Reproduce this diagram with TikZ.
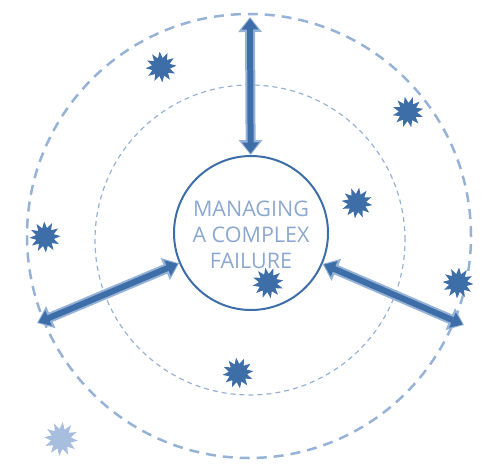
\documentclass[tikz,border=0pt]{standalone}
\usepackage{fontspec}
\setmainfont{Open Sans}
\usetikzlibrary{arrows.meta,shapes.geometric}

\definecolor{deepblue}{RGB}{62,110,168}
\definecolor{paleblue}{RGB}{150,178,214}
\definecolor{textblue}{RGB}{140,168,208}
\definecolor{fadedblue}{RGB}{168,190,222}

\tikzset{
  burst/.style={star, star points=12, star point ratio=1.7, fill=deepblue,
    inner sep=0pt, minimum size=31pt},
  halo/.style={line width=10pt, paleblue,
    {Triangle[length=15pt,width=23pt]}-{Triangle[length=15pt,width=23pt]}},
  shaft/.style={line width=6pt, deepblue, shorten <=1.5pt, shorten >=1.5pt,
    {Triangle[length=11pt,width=16pt]}-{Triangle[length=11pt,width=16pt]}}
}

\begin{document}
\begin{tikzpicture}[x=1pt,y=-1pt]
    \useasboundingbox (0,0) rectangle (492,468);

    \draw[paleblue, line width=2.5pt, dash pattern=on 10pt off 7pt]
	(249,236) circle (222pt);
    \draw[paleblue, line width=1.2pt, dash pattern=on 5pt off 4pt]
	(250,240) circle (155pt);

    \node[circle, draw=deepblue, line width=2pt, minimum size=154pt]
	(core) at (251,233) {};
    \node[text=textblue, align=center, font=\fontsize{21.5}{26}\selectfont]
	(label) at (251,234.5) {MANAGING\\A COMPLEX\\FAILURE};

    \coordinate (top) at (250,17);
    \coordinate (lft) at (37,323);
    \coordinate (rgt) at (464,325);

    \draw[halo] (core) -- (top);
    \draw[shaft] (core) -- (top);
    \draw[halo] (core) -- (lft);
    \draw[shaft] (core) -- (lft);
    \draw[halo] (core) -- (rgt);
    \draw[shaft] (core) -- (rgt);

    \node[burst, rotate=5] (s1) at (161,67) {};
    \node[burst, rotate=12] (s2) at (408,112) {};
    \node[burst, rotate=-8] (s3) at (357,203) {};
    \node[burst, rotate=3] (s4) at (45,237) {};
    \node[burst, rotate=10] (s5) at (268,283) {};
    \node[burst, rotate=-4] (s6) at (458,283) {};
    \node[burst, rotate=7] (s7) at (238,373) {};
    \node[burst, fill=fadedblue, minimum size=34pt, rotate=-6] (s8) at (61,439) {};
\end{tikzpicture}
\end{document}
